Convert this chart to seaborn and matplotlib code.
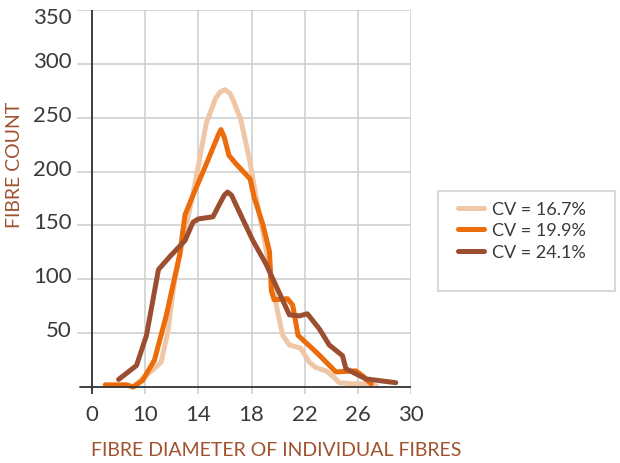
import pandas as pd
import seaborn as sns
import matplotlib.pyplot as plt
import matplotlib.transforms as mtransforms
from matplotlib.patches import Rectangle

# fibre diameter (axis starts at 6, labelled "0") and counts per series
light_x = [9.2, 9.8, 10.5, 11.2, 11.7, 12.2, 12.7, 13.6, 14.6, 15.3, 15.65, 16.0, 16.35, 16.6,
           17.2, 17.85, 18.35, 19.0, 19.4, 19.7, 20.1, 20.35, 20.85, 21.7, 22.35, 22.85, 23.6,
           24.2, 24.6, 25.5, 26.85, 27.4]
light_y = [1, 8, 15, 23, 51, 98, 128, 179, 245, 268, 274, 276, 273, 267,
           248, 211, 176, 135, 105, 86, 62, 48, 39, 36, 23, 18, 15,
           9, 4, 3, 3, 1]

orange_x = [7.0, 8.6, 9.1, 9.8, 10.7, 11.6, 12.6, 13.0, 13.6, 14.6, 15.5, 15.7, 15.95, 16.3,
            16.85, 17.9, 18.2, 18.85, 19.35, 19.5, 19.7, 20.7, 21.1, 21.5, 22.9, 24.35, 25.85,
            26.4, 27.0]
orange_y = [2, 2, 0, 6, 25, 67, 123, 160, 178, 207, 234, 239, 232, 215,
            207, 193, 176, 151, 126, 89, 81, 82, 76, 48, 32, 14, 15,
            10, 3]

brown_x = [8.0, 9.35, 10.1, 11.0, 11.85, 13.0, 13.6, 14.0, 15.1, 15.6, 15.95, 16.2, 16.5,
           16.8, 18.1, 19.1, 20.85, 21.6, 22.2, 23.1, 23.85, 24.85, 25.1, 26.6, 28.85]
brown_y = [7, 20, 48, 109, 121, 136, 153, 156, 158, 170, 178, 181, 178,
           170, 136, 114, 67, 66, 68, 54, 39, 29, 17, 7.5, 4]

series = ['CV = 16.7%', 'CV = 19.9%', 'CV = 24.1%']
colors = ['#F0C7A6', '#EC6B0B', '#9C4E30']
tick_pos = [6, 10, 14, 18, 22, 26, 30]
tick_lab = ['0', '10', '14', '18', '22', '26', '30']

df = pd.concat([
    pd.DataFrame({'x': light_x, 'y': light_y, 'cv': series[0]}),
    pd.DataFrame({'x': orange_x, 'y': orange_y, 'cv': series[1]}),
    pd.DataFrame({'x': brown_x, 'y': brown_y, 'cv': series[2]}),
])

sns.set_style('white')
plt.rcParams['font.family'] = ['Lato', 'DejaVu Sans']
text_col = '#A0522F'

fig = plt.figure(figsize=(6.2, 4.64), dpi=100)
ax = fig.add_axes([77 / 620, 1 - 395 / 464, 334 / 620, 384 / 464])

sns.lineplot(data=df, x='x', y='y', hue='cv', hue_order=series,
             palette=dict(zip(series, colors)), linewidth=3.6, sort=False,
             estimator=None, ax=ax, legend=False)
for line, z in zip(ax.lines, [2, 2.5, 3]):
    line.set_zorder(z)
    line.set_solid_joinstyle('round')

ax.set_xlim(6 - 15 / 13.29, 30)
ax.set_ylim(-6.5, 350)
ax.set_xticks(tick_pos)
ax.set_xticklabels(tick_lab)
ax.set_yticks(range(50, 351, 50))
ax.grid(True, color='#cfcfcf', linewidth=1.2)
for s in ax.spines.values():
    s.set_visible(False)
ax.axhline(0, xmin=3 / 334, xmax=1, color='#333333', linewidth=1.3, zorder=4)
ax.axvline(6, color='#333333', linewidth=1.3, zorder=4)
ax.tick_params(length=0, labelsize=16, labelcolor='#3a3a3a')
ax.tick_params(axis='y', pad=4)
ax.tick_params(axis='x', pad=7)
up = mtransforms.ScaledTranslation(0, 5 / 100, fig.dpi_scale_trans)
down = mtransforms.ScaledTranslation(0, -5 / 100, fig.dpi_scale_trans)
ylabs = ax.get_yticklabels()
for lab in ylabs[:-1]:
    lab.set_transform(lab.get_transform() + up)
ylabs[-1].set_transform(ylabs[-1].get_transform() + down)
ax.set_xlabel('')
ax.set_ylabel('')

fig.text(276 / 620, 1 - 451 / 464, 'FIBRE DIAMETER OF INDIVIDUAL FIBRES', color=text_col,
         fontsize=14, ha='center', va='center')
fig.text(15 / 620, 1 - 165 / 464, 'FIBRE COUNT', color=text_col, fontsize=14,
         rotation=90, ha='center', va='center')

handles = [plt.Line2D([], [], color=c, linewidth=3.6) for c in colors]
leg = fig.legend(handles, series, loc='upper left', bbox_to_anchor=(458 / 620, 1 - 202 / 464),
                 bbox_transform=fig.transFigure, frameon=False, borderpad=0, borderaxespad=0,
                 handlelength=1.45, handletextpad=0.45, labelspacing=0.3, fontsize=13)
for t in leg.get_texts():
    t.set_color('#3a3a3a')
fig.patches.append(Rectangle((438 / 620, 1 - 292 / 464), 177 / 620, 100 / 464,
                             transform=fig.transFigure, fill=False,
                             edgecolor='#d9d9d9', linewidth=1.5))

fig.savefig('out.png', dpi=100)
